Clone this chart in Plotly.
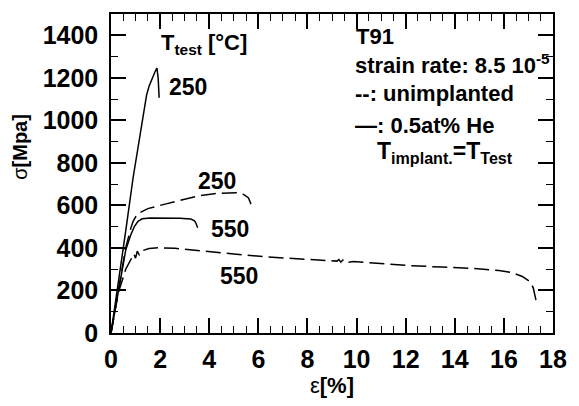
import plotly.graph_objects as go

# Stress-strain curves of T91 (strain in %, stress in MPa)
he250_strain = [0, 0.3, 0.6, 0.9, 1.2, 1.45, 1.55, 1.65, 1.78, 1.87, 1.92, 1.96]
he250_stress = [0, 230, 480, 730, 950, 1120, 1160, 1190, 1225, 1246, 1200, 1106]

un250_strain = [0, 0.3, 0.6, 0.8, 0.9, 1.07, 1.5, 2.2, 3.0, 3.53, 4.2, 4.6, 5.1, 5.4, 5.6, 5.7]
un250_stress = [0, 200, 400, 490, 525, 560, 585, 606, 630, 644, 655, 658, 660, 652, 635, 606]

he550_strain = [0, 0.3, 0.6, 0.8, 0.95, 1.1, 1.27, 1.6, 2.2, 2.8, 3.25, 3.4, 3.45, 3.53]
he550_stress = [0, 200, 390, 460, 500, 525, 537, 541, 541, 539, 536, 528, 518, 495]

un550_strain = [0, 0.3, 0.6, 0.75, 0.87, 0.93, 1.0, 1.07, 1.15, 1.27, 1.55, 1.94, 2.6, 3.53, 5.0, 6.2, 7.8,
                9.2, 9.28, 9.36, 9.44, 9.52, 9.88, 11.0, 12.1, 13.5, 14.8, 15.8, 16.3, 16.75,
                17.1, 17.2, 17.35]
un550_stress = [0, 190, 300, 330, 355, 372, 352, 385, 368, 387, 397, 401, 398, 387, 372, 359, 347,
                338, 345, 333, 343, 331, 336, 327, 317, 310, 303, 294, 285, 266,
                238, 210, 131]

curve_labels = ["250", "250", "550", "550"]
label_x = [3.15, 4.3, 4.85, 5.2]
label_y = [1155, 714, 490, 270]

x_ticks = [0, 2, 4, 6, 8, 10, 12, 14, 16, 18]
y_ticks = [0, 200, 400, 600, 800, 1000, 1200, 1400]

FONT = "Liberation Sans, Arial, sans-serif"
line_style = dict(color="black", width=1.5)
dashed = dict(color="black", width=1.5, dash="15px,6px")

fig = go.Figure()
fig.add_trace(go.Scatter(x=he250_strain, y=he250_stress, mode="lines", line=line_style))
fig.add_trace(go.Scatter(x=un250_strain, y=un250_stress, mode="lines", line=dashed))
fig.add_trace(go.Scatter(x=he550_strain, y=he550_stress, mode="lines", line=line_style))
fig.add_trace(go.Scatter(x=un550_strain, y=un550_stress, mode="lines", line=dashed))

for txt, lx, ly in zip(curve_labels, label_x, label_y):
    fig.add_annotation(x=lx, y=ly, text=f"<b>{txt}</b>", showarrow=False,
                       font=dict(family=FONT, size=23, color="black"))

fig.add_annotation(x=1.94, y=1358, xanchor="left", yanchor="middle", showarrow=False,
                   text="<b>T<sub>test</sub> [°C]</b>",
                   font=dict(family=FONT, size=22, color="black"))

block = [
    (9.9, 1395, "<b>T91</b>", 22),
    (9.85, 1265, "<b>strain rate: 8.5 10<sup>-5</sup></b>", 22),
    (9.85, 1128, "<b>--: unimplanted</b>", 22),
    (9.85, 975, "<b>—: 0.5at% He</b>", 22),
    (10.75, 850, "<b>T<sub>implant.</sub>=T<sub>Test</sub></b>", 23),
]
for bx, by, txt, sz in block:
    fig.add_annotation(x=bx, y=by, xanchor="left", yanchor="middle", showarrow=False,
                       text=txt, font=dict(family=FONT, size=sz, color="black"))

# y-axis title placed beside the tick labels
fig.add_annotation(xref="paper", yref="paper", x=-0.205, y=0.585, xanchor="center",
                   yanchor="middle", textangle=-90, showarrow=False, text="σ<b>[Mpa]</b>",
                   font=dict(family=FONT, size=20, color="black"))

axis_common = dict(
    showgrid=False, zeroline=False, showline=True, linecolor="black", linewidth=1.5,
    mirror="ticks", ticks="inside", ticklen=15, tickwidth=1.5, tickcolor="black",
    tickfont=dict(family=FONT, size=25, color="black", weight="bold"),
)

fig.update_xaxes(range=[0, 18], tickvals=x_ticks,
                 minor=dict(dtick=0.5, ticks="inside", ticklen=7, tickwidth=1.2, tickcolor="black"),
                 title=dict(text="ε<b>[%]</b>", font=dict(family=FONT, size=22, color="black"),
                            standoff=4),
                 ticklabelstandoff=3,
                 **axis_common)
fig.update_yaxes(range=[0, 1500], tickvals=y_ticks,
                 minor=dict(dtick=100, ticks="inside", ticklen=7, tickwidth=1.2, tickcolor="black"),
                 ticklabelstandoff=6,
                 **axis_common)

fig.update_layout(
    width=579, height=406,
    margin=dict(l=111, r=15, t=12, b=73),
    plot_bgcolor="white", paper_bgcolor="white",
    showlegend=False,
)

fig.write_html("out.html")
